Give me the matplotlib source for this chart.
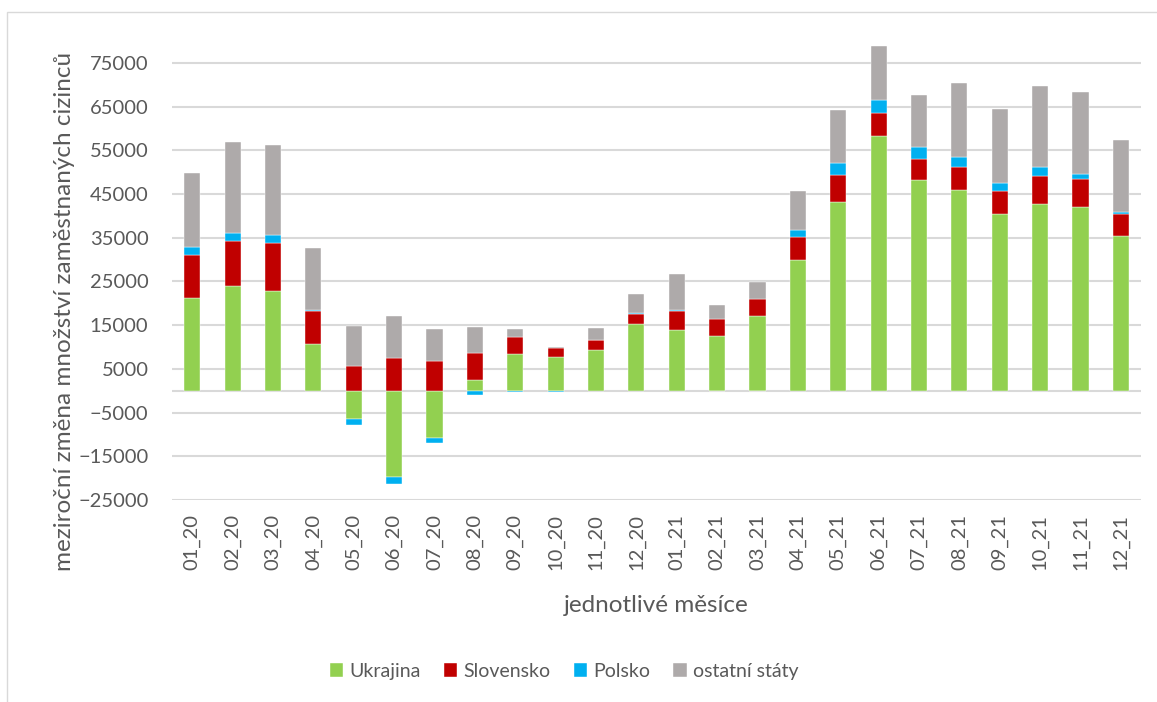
import numpy as np
import matplotlib.pyplot as plt
from matplotlib.patches import Rectangle

# Data
mesice = ['01_20', '02_20', '03_20', '04_20', '05_20', '06_20', '07_20', '08_20',
          '09_20', '10_20', '11_20', '12_20', '01_21', '02_21', '03_21', '04_21',
          '05_21', '06_21', '07_21', '08_21', '09_21', '10_21', '11_21', '12_21']
ukrajina = [21200, 23900, 22900, 10700, -6550, -19700, -10800, 2500,
            8500, 7700, 9300, 15200, 14000, 12600, 17100, 29900,
            43200, 58300, 48100, 46000, 40400, 42700, 42100, 35400]
slovensko = [9900, 10300, 10800, 7500, 5700, 7600, 6900, 6200,
             3900, 2100, 2200, 2400, 4300, 3700, 3800, 5200,
             6200, 5200, 5000, 5100, 5300, 6500, 6300, 5000]
polsko = [1700, 1800, 1900, 300, -1400, -1700, -1200, -1000,
          -200, -200, 100, 200, 200, -100, -100, 1700,
          2700, 3000, 2600, 2300, 1800, 1900, 1100, 400]
ostatni = [17100, 21000, 20700, 14100, 9000, 9500, 7200, 5800,
           1700, 100, 2700, 4400, 8200, 3400, 4000, 8900,
           12200, 12400, 12000, 17100, 17000, 18500, 18800, 16600]

serie = [('Ukrajina', ukrajina, '#92d050'),
         ('Slovensko', slovensko, '#c00000'),
         ('Polsko', polsko, '#00b0f0'),
         ('ostatní státy', ostatni, '#aeaaaa')]

plt.rcParams['font.family'] = ['Lato', 'DejaVu Sans']
text_color = '#595959'

fig = plt.figure(figsize=(11.57, 7.02), dpi=100)
ax = fig.add_axes([0.1487, 0.2877, 0.8375, 0.6539])

# ramecek grafu
fig.patches.append(Rectangle((7 / 1157, -0.1), 1.2, 1 - 12 / 702 + 0.1,
                             transform=fig.transFigure, fill=False,
                             edgecolor='#d9d9d9', linewidth=1))

x = np.arange(len(mesice))
pos_bottom = np.zeros(len(mesice))
neg_bottom = np.zeros(len(mesice))
for nazev, hodnoty, barva in serie:
    v = np.array(hodnoty, dtype=float)
    bottom = np.where(v >= 0, pos_bottom, neg_bottom)
    ax.bar(x, v, 0.4, bottom=bottom, color=barva, label=nazev,
           edgecolor='white', linewidth=0.3, zorder=3)
    pos_bottom += np.where(v >= 0, v, 0)
    neg_bottom += np.where(v < 0, v, 0)

ax.set_xlim(-0.5, len(mesice) - 0.5)
ax.set_ylim(-25000, 80000)
ax.set_yticks(np.arange(-25000, 80000, 10000))
ax.set_xticks(x)
ax.set_xticklabels(mesice, rotation=90)
ax.grid(axis='y', color='#d9d9d9', linewidth=1.5, zorder=0)
ax.axhline(0, color='#d9d9d9', linewidth=1.5, zorder=2)
for s in ax.spines.values():
    s.set_visible(False)
ax.tick_params(axis='both', length=0, labelsize=14.5, colors=text_color)
ax.tick_params(axis='y', pad=17)
ax.tick_params(axis='x', pad=10)

ax.set_xlabel('jednotlivé měsíce', fontsize=17.5, color=text_color, labelpad=18)
ax.set_ylabel('meziroční změna množství zaměstnaných cizinců', fontsize=17.5,
              color=text_color)
ax.yaxis.set_label_coords(-0.1, 0.41)

fig.legend(loc='center', bbox_to_anchor=(0.4875, 0.044), ncol=4, frameon=False,
           fontsize=14, labelcolor=text_color, handlelength=0.7, handleheight=0.7,
           handletextpad=0.3, columnspacing=1.2)

fig.savefig('out.png', dpi=100)
